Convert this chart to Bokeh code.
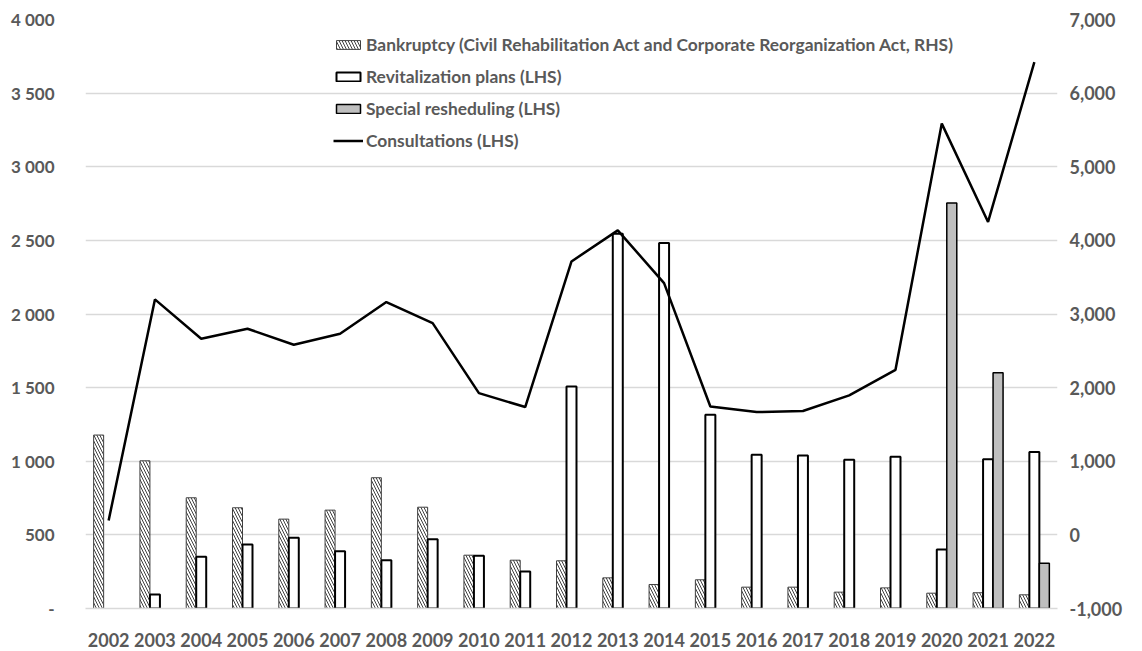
from bokeh.plotting import figure
from bokeh.models import (FactorRange, Range1d, LinearAxis, FixedTicker, NumeralTickFormatter,
                          ColumnDataSource, Legend, LegendItem)
from bokeh.transform import dodge
from bokeh.embed import file_html
from bokeh.resources import INLINE

NA = float("nan")
years = [str(y) for y in range(2002, 2023)]
bankruptcy = [1178, 1003, 752, 684, 607, 668, 888, 688, 362, 328, 324, 208, 163, 195, 145,
              145, 111, 140, 104, 107, 93]
revitalization = [NA, 95, 351, 435, 480, 389, 328, 471, 358, 251, 1508, 2545, 2482, 1316, 1044,
                  1039, 1010, 1030, 401, 1014, 1062]
special = [NA, NA, NA, NA, NA, NA, NA, NA, NA, NA, NA, NA, NA, NA, NA, NA, NA, NA, 2753, 1601, 308]
consultations = [598, 2099, 1832, 1900, 1791, 1866, 2081, 1938, 1463, 1368, 2357, 2568, 2210,
                 1372, 1334, 1341, 1447, 1621, 3293, 2625, 3711]

left_ticks = [0, 500, 1000, 1500, 2000, 2500, 3000, 3500, 4000]
left_labels = ["-", "500", "1 000", "1 500", "2 000", "2 500", "3 000", "3 500", "4 000"]
right_ticks = [-1000, 0, 1000, 2000, 3000, 4000, 5000, 6000, 7000]

legend_labels = ["Bankruptcy (Civil Rehabilitation Act and Corporate Reorganization Act, RHS)",
                 "Revitalization plans (LHS)", "Special resheduling (LHS)", "Consultations (LHS)"]

FONT = "Lato"
GRAY = "#595959"

src = ColumnDataSource(dict(year=years, bank=bankruptcy, revit=revitalization,
                            special=special, cons=consultations))

p = figure(x_range=FactorRange(factors=years), y_range=Range1d(0, 4000),
           width=1142, height=651, output_backend="svg", toolbar_location=None,
           min_border_left=85, min_border_right=85, min_border_top=19, min_border_bottom=43)
p.outline_line_color = None
p.extra_y_ranges = {"right": Range1d(-1000, 7000)}

bw = 0.216
r_bank = p.vbar(x=dodge("year", -0.216, range=p.x_range), top="bank", width=bw, bottom=0,
                source=src, fill_color="white", hatch_pattern="\\", hatch_color="#404040",
                hatch_scale=6, hatch_weight=1, line_color="#404040", line_width=1)
r_revit = p.vbar(x=dodge("year", 0.0, range=p.x_range), top="revit", width=bw, bottom=0,
                 source=src, fill_color="white", line_color="black", line_width=2)
r_spec = p.vbar(x=dodge("year", 0.216, range=p.x_range), top="special", width=bw, bottom=0,
                source=src, fill_color="#bfbfbf", line_color="black", line_width=1.5)
r_line = p.line(x="year", y="cons", source=src, line_color="black", line_width=2.5)

# axes
p.yaxis.ticker = FixedTicker(ticks=left_ticks)
p.yaxis.major_label_overrides = {t: l for t, l in zip(left_ticks, left_labels)}
for ax in [p.yaxis[0]]:
    ax.axis_line_color = None
    ax.major_tick_line_color = None
    ax.minor_tick_line_color = None
    ax.major_label_text_font = FONT
    ax.major_label_text_font_style = "bold"
    ax.major_label_text_font_size = "17px"
    ax.major_label_text_color = GRAY
    ax.major_label_standoff = 25

ra = LinearAxis(y_range_name="right", ticker=FixedTicker(ticks=right_ticks),
                formatter=NumeralTickFormatter(format="0,0"))
ra.axis_line_color = None
ra.major_tick_line_color = None
ra.minor_tick_line_color = None
ra.major_label_text_font = FONT
ra.major_label_text_font_style = "bold"
ra.major_label_text_font_size = "18px"
ra.major_label_text_color = GRAY
ra.major_label_standoff = 6
p.add_layout(ra, "right")

xa = p.xaxis[0]
xa.axis_line_color = "#d9d9d9"
xa.axis_line_width = 1.5
xa.major_tick_line_color = None
xa.minor_tick_line_color = None
xa.major_label_text_font = FONT
xa.major_label_text_font_style = "bold"
xa.major_label_text_font_size = "18px"
xa.major_label_text_color = GRAY
xa.major_label_standoff = 18

p.xgrid.grid_line_color = None
p.ygrid.grid_line_color = "#d9d9d9"
p.ygrid.grid_line_width = 1.5

legend = Legend(items=[LegendItem(label=legend_labels[0], renderers=[r_bank]),
                       LegendItem(label=legend_labels[1], renderers=[r_revit]),
                       LegendItem(label=legend_labels[2], renderers=[r_spec]),
                       LegendItem(label=legend_labels[3], renderers=[r_line])],
                location=(248, 457), orientation="vertical")
legend.background_fill_alpha = 0
legend.border_line_color = None
legend.padding = 0
legend.margin = 0
legend.spacing = 11
legend.glyph_width = 30
legend.glyph_height = 11
legend.label_height = 11
legend.label_standoff = 3
legend.label_text_font = FONT
legend.label_text_font_style = "bold"
legend.label_text_font_size = "17.4px"
legend.label_text_color = GRAY
legend.label_text_baseline = "middle"
p.add_layout(legend, "center")

open("out.html", "w").write(file_html(p, INLINE))
